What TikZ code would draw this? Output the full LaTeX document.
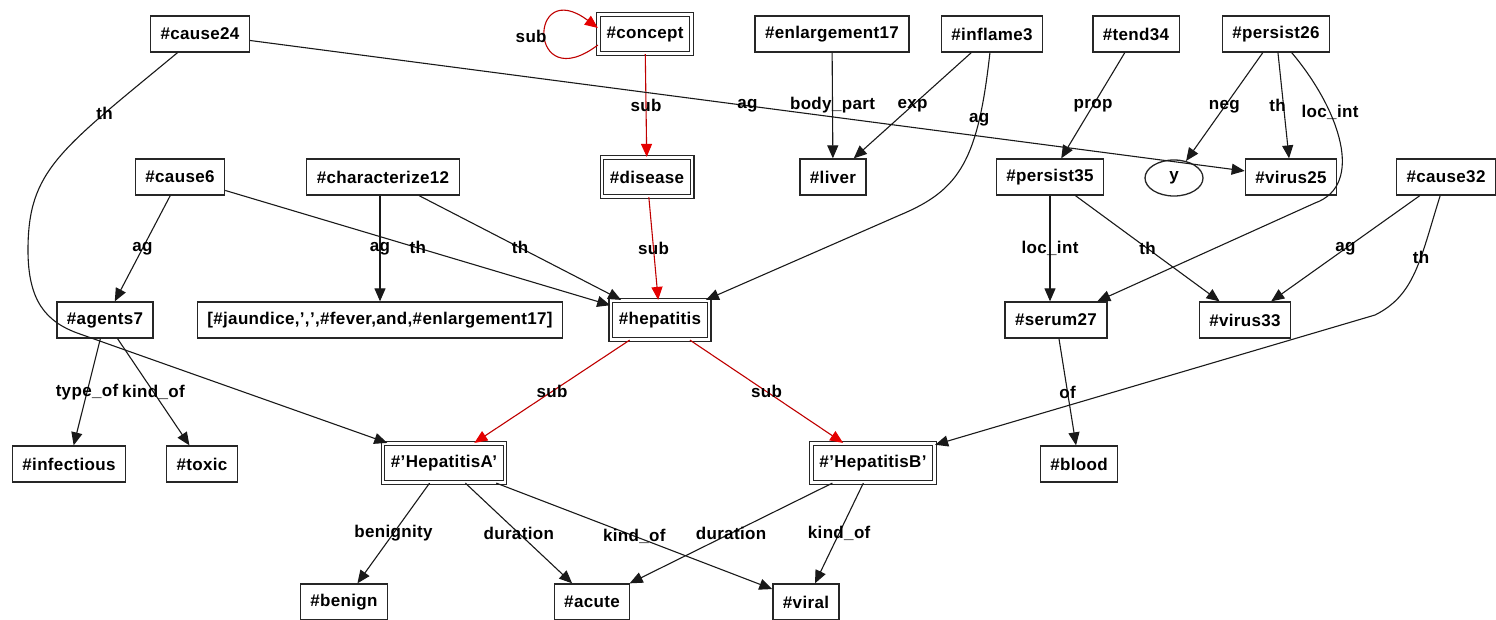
\documentclass[tikz,border=0pt]{standalone}
\usepackage{fontspec}
\newfontfamily\gfont{Liberation Sans}[LetterSpace=2]
\usetikzlibrary{arrows.meta,shapes.geometric}
\tikzset{
  gtext/.style={font={\gfont\bfseries\fontsize{17}{19}\selectfont}},
  box/.style={gtext, draw=black!85, line width=1.3pt, fill=white, minimum height=36pt, inner xsep=10pt, inner ysep=0pt},
  dbox/.style={box, double, double distance=2.4pt, line width=1.2pt, minimum height=39pt, inner xsep=8pt},
  ell/.style={box, ellipse, minimum width=58pt, minimum height=36pt, inner sep=0pt},
  lbl/.style={gtext, inner sep=0pt, text=black},
  edge/.style={draw=black!90, line width=1.1pt, -{Triangle[length=13pt,width=11pt]}},
  redge/.style={edge, draw=red!75!black, -{Triangle[length=13pt,width=11pt,color=red!90!black]}}
}
\begin{document}
\begin{tikzpicture}[x=1pt,y=-1pt]
\useasboundingbox (0,0) rectangle (1496,619);
% row 1
\node[box]  (cause24)   at (200,34)  {\#cause24};
\node[dbox] (concept)   at (645,34)  {\#concept};
\node[box]  (enl17)     at (832,34)  {\#enlargement17};
\node[box]  (inflame3)  at (992,34)  {\#inflame3};
\node[box]  (tend34)    at (1136,34) {\#tend34};
\node[box]  (persist26) at (1276,34) {\#persist26};
% row 2
\node[box]  (cause6)    at (180,177) {\#cause6};
\node[box]  (char12)    at (383,177) {\#characterize12};
\node[dbox] (disease)   at (647,177) {\#disease};
\node[box]  (liver)     at (833,177) {\#liver};
\node[box]  (persist35) at (1050,177) {\#persist35};
\node[ell]  (y)         at (1174,178) {y};
\node[box]  (virus25)   at (1291,177) {\#virus25};
\node[box]  (cause32)   at (1446,177) {\#cause32};
% row 3
\node[box]  (agents7)   at (105,320) {\#agents7};
\node[box]  (jaund)     at (380,320) {[\#jaundice,’,’,\#fever,and,\#enlargement17]};
\node[dbox] (hepatitis) at (660,320) {\#hepatitis};
\node[box]  (serum27)   at (1056,320) {\#serum27};
\node[box]  (virus33)   at (1245,320) {\#virus33};
% row 4
\node[box]  (infectious) at (69,464) {\#infectious};
\node[box]  (toxic)      at (202,464) {\#toxic};
\node[dbox] (hepA)       at (444,463) {\#’HepatitisA’};
\node[dbox] (hepB)       at (873,463) {\#’HepatitisB’};
\node[box]  (blood)      at (1079,464) {\#blood};
% row 5
\node[box]  (benign)     at (344,602) {\#benign};
\node[box]  (acute)      at (592,602) {\#acute};
\node[box]  (viral)      at (806,602) {\#viral};

% red sub edges
\draw[redge] ([yshift=-11pt]concept.west) .. controls +(217:88pt) and +(143:88pt) .. node[lbl,pos=0.5,xshift=-14pt]{sub} ([yshift=6pt]concept.west);
\draw[redge] (concept) -- node[lbl]{sub} (disease);
\draw[redge] (disease) -- node[lbl]{sub} (hepatitis);
\draw[redge] (hepatitis) -- node[lbl]{sub} (hepA);
\draw[redge] (hepatitis) -- node[lbl]{sub} (hepB);

% black edges
\draw[edge] (cause24) -- node[lbl]{ag} (virus25);
\draw[edge] (cause24) .. controls (60,150) and (28,170) .. node[lbl,pos=0.25]{th} (28,250) .. controls (28,300) and (45,322) .. (80,334) -- (hepA);
\draw[edge] (cause6) -- node[lbl]{ag} (agents7);
\draw[edge] (cause6) -- node[lbl]{th} (hepatitis);
\draw[edge] (jaund |- char12.south) -- node[lbl]{ag} (jaund);
\draw[edge] (char12) -- node[lbl]{th} (hepatitis);
\draw[edge] (enl17) -- node[lbl]{body\_part} (liver);
\draw[edge] (inflame3) -- node[lbl]{exp} (liver);
\draw[edge] (inflame3) .. controls (978,160) and (960,190) .. node[lbl,pos=0.25]{ag} (900,215) -- (hepatitis);
\draw[edge] (tend34) -- node[lbl]{prop} (persist35);
\draw[edge] (persist26) -- node[lbl]{neg} (y);
\draw[edge] (persist26) -- node[lbl,xshift=-6pt]{th} (virus25);
\draw[edge] (persist26) .. controls (1340,110) and (1365,185) .. node[lbl,pos=0.33]{loc\_int} (1315,203) -- (serum27);
\draw[edge] (persist35) -- node[lbl]{loc\_int} (persist35 |- serum27.north);
\draw[edge] (persist35) -- node[lbl]{th} (virus33);
\draw[edge] (cause32) -- node[lbl]{ag} (virus33);
\draw[edge] (cause32) .. controls (1420,260) and (1415,295) .. node[lbl,pos=0.38]{th} (1375,315) -- (hepB);
\draw[edge] (agents7) -- node[lbl]{type\_of} (infectious);
\draw[edge] (agents7) -- node[lbl]{kind\_of} (toxic);
\draw[edge] (serum27) -- node[lbl]{of} (blood);
\draw[edge] (hepA) -- node[lbl]{benignity} (benign);
\draw[edge] (hepA) -- node[lbl]{duration} (acute);
\draw[edge] (hepA) -- node[lbl]{kind\_of} (viral);
\draw[edge] (hepB) -- node[lbl]{duration} (acute);
\draw[edge] (hepB) -- node[lbl]{kind\_of} (viral);
\end{tikzpicture}
\end{document}
